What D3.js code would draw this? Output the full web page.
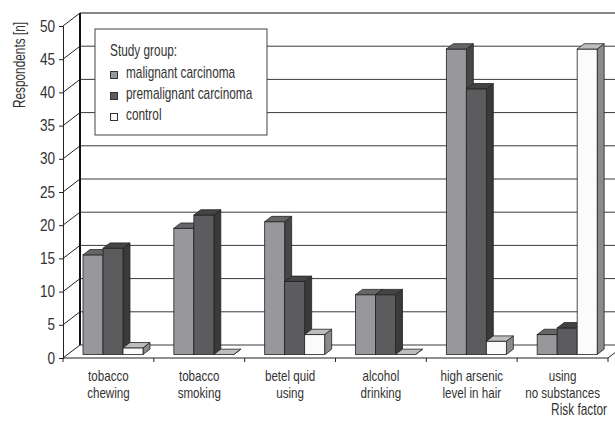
<!DOCTYPE html>
<html>
<head>
<meta charset="utf-8">
<script src="https://cdn.jsdelivr.net/npm/d3@7"></script>
<style>
  body { margin: 0; background: #fff; }
  svg text { font-family: "Liberation Sans", Arial, sans-serif; fill: #333; font-size: 16px; }
  svg text.cat { font-size: 14.5px; }
</style>
</head>
<body>
<div id="chart"></div>
<script>
// Data
const categories = [
  ["tobacco", "chewing"],
  ["tobacco", "smoking"],
  ["betel quid", "using"],
  ["alcohol", "drinking"],
  ["high arsenic", "level in hair"],
  ["using", "no substances"]
];
const groups = ["malignant carcinoma", "premalignant carcinoma", "control"];
const malignant = [15, 19, 20, 9, 46, 3];
const premalignant = [16, 21, 11, 9, 40, 4];
const control = [1, 0, 3, 0, 2, 46];
const yTicks = [0, 5, 10, 15, 20, 25, 30, 35, 40, 45, 50];

// Constants
const width = 615;
const height = 422;
const depthX = 17;   // wall depth
const depthY = -13;
const barT0 = 0.27;  // bar front plane as fraction of depth
const barT1 = 0.68;  // bar back plane
const groupWidth = 60;
const narrow = 0.74; // condensed text look
const narrowDigits = 0.85;

const faces = {
  "malignant carcinoma": { front: "#98989c", top: "#666668", side: "#474749" },
  "premalignant carcinoma": { front: "#5c5c5e", top: "#444446", side: "#3a3a3b" },
  "control": { front: "#fbfbfb", top: "#bdbdbf", side: "#8a8a8e" }
};

const svg = d3.select("#chart").append("svg")
  .attr("width", width)
  .attr("height", height);

function label(parent, x, y, str, anchor, rot, k) {
  return parent.append("text")
    .attr("transform", `translate(${x},${y})${rot ? ` rotate(${rot})` : ""} scale(${k || narrow},1)`)
    .attr("text-anchor", anchor || "start")
    .text(str);
}

//-----------------------------SCALES-----------------------------//
const x = d3.scaleBand().domain(d3.range(categories.length)).range([63, 608]);
const y = d3.scaleLinear().domain([0, 50]).range([358, 26]);
const xSub = d3.scaleBand().domain(groups).range([0, groupWidth]);

//-----------------------------WALLS-----------------------------//
const walls = svg.append("g");

// back wall grid lines
walls.selectAll(".grid").data(yTicks).enter().append("line")
  .attr("x1", 63 + depthX).attr("x2", 640)
  .attr("y1", d => y(d) + depthY).attr("y2", d => y(d) + depthY)
  .attr("stroke", d => d === 50 ? "#111" : "#3a3a3a")
  .attr("stroke-width", 1);

// left wall diagonals
walls.selectAll(".diag").data(yTicks).enter().append("line")
  .attr("x1", 63).attr("x2", 63 + depthX)
  .attr("y1", d => y(d)).attr("y2", d => y(d) + depthY)
  .attr("stroke", "#222").attr("stroke-width", 1);

// back wall left edge
walls.append("line")
  .attr("x1", 63 + depthX).attr("x2", 63 + depthX)
  .attr("y1", y(50) + depthY).attr("y2", y(0) + depthY)
  .attr("stroke", "#111").attr("stroke-width", 2);

// floor right edge
walls.append("line")
  .attr("x1", 608).attr("x2", 608 + depthX)
  .attr("y1", y(0)).attr("y2", y(0) + depthY)
  .attr("stroke", "#222");

//-----------------------------AXES-----------------------------//
const yAxis = d3.axisLeft(y).tickValues(yTicks).tickSize(4).tickPadding(4);
const gy = svg.append("g").attr("transform", "translate(63,0)").call(yAxis);
gy.attr("font-family", null).attr("font-size", null);
gy.select(".domain").attr("stroke", "#222");
gy.selectAll(".tick line").attr("stroke", "#222");
gy.selectAll(".tick text")
  .attr("x", 0)
  .attr("transform", `translate(-8,0) scale(${narrowDigits},1)`)
  .attr("fill", "#333");

svg.append("line")
  .attr("x1", 63).attr("x2", 608)
  .attr("y1", y(0)).attr("y2", y(0))
  .attr("stroke", "#222");

svg.selectAll(".xtick").data(d3.range(categories.length + 1)).enter().append("line")
  .attr("x1", d => 63 + d * x.bandwidth())
  .attr("x2", d => 63 + d * x.bandwidth())
  .attr("y1", y(0)).attr("y2", y(0) + 4)
  .attr("stroke", "#222");

//-----------------------------LEGEND-----------------------------//
const legend = svg.append("g").attr("transform", "translate(95,29)");
legend.append("rect")
  .attr("width", 172).attr("height", 106)
  .attr("fill", "#fff").attr("stroke", "#444").attr("stroke-width", 1);
label(legend, 15, 27, "Study group:");
groups.forEach(function (g, i) {
  legend.append("rect")
    .attr("x", 15.5).attr("y", 42.5 + i * 21)
    .attr("width", 7).attr("height", 7)
    .attr("fill", faces[g].front)
    .attr("stroke", "#333");
  label(legend, 31, 49 + i * 21, g);
});

//-----------------------------BARS-----------------------------//
const series = [malignant, premalignant, control];
const bdx = (barT1 - barT0) * depthX;
const bdy = (barT1 - barT0) * depthY;
const sx = barT0 * depthX;
const sy = barT0 * depthY;

const barData = [];
categories.forEach(function (c, i) {
  groups.forEach(function (g, j) {
    barData.push({ cat: i, group: g, value: series[j][i] });
  });
});

const bars = svg.selectAll(".bar").data(barData).enter().append("g")
  .attr("class", "bar");

function pts(arr) {
  return arr.map(p => p.join(",")).join(" ");
}

bars.each(function (d) {
  const g = d3.select(this);
  const x0 = x(d.cat) + (x.bandwidth() - groupWidth) / 2 + xSub(d.group) + sx;
  const w = xSub.bandwidth();
  const yb = y(0) + sy;
  const yt = y(d.value) + sy;
  const f = faces[d.group];
  // side
  g.append("polygon")
    .attr("points", pts([[x0 + w, yt], [x0 + w + bdx, yt + bdy], [x0 + w + bdx, yb + bdy], [x0 + w, yb]]))
    .attr("fill", f.side).attr("stroke", "#222").attr("stroke-width", 0.8);
  // front
  if (d.value > 0) {
    g.append("rect")
      .attr("x", x0).attr("y", yt)
      .attr("width", w).attr("height", yb - yt)
      .attr("fill", f.front).attr("stroke", "#222").attr("stroke-width", 0.8);
  }
  // top
  g.append("polygon")
    .attr("points", pts([[x0, yt], [x0 + w, yt], [x0 + w + bdx, yt + bdy], [x0 + bdx, yt + bdy]]))
    .attr("fill", f.top).attr("stroke", "#222").attr("stroke-width", 0.8);
});

//-----------------------------LABELS-----------------------------//
categories.forEach(function (c, i) {
  const cx = x(i) + x.bandwidth() / 2;
  label(svg, cx, 380.5, c[0], "middle", 0, 0.8).attr("class", "cat");
  label(svg, cx, 397.5, c[1], "middle", 0, 0.8).attr("class", "cat");
});

label(svg, 25, 65, "Respondents [n]", "middle", -90);
label(svg, 607, 415, "Risk factor", "end");
</script>
</body>
</html>
